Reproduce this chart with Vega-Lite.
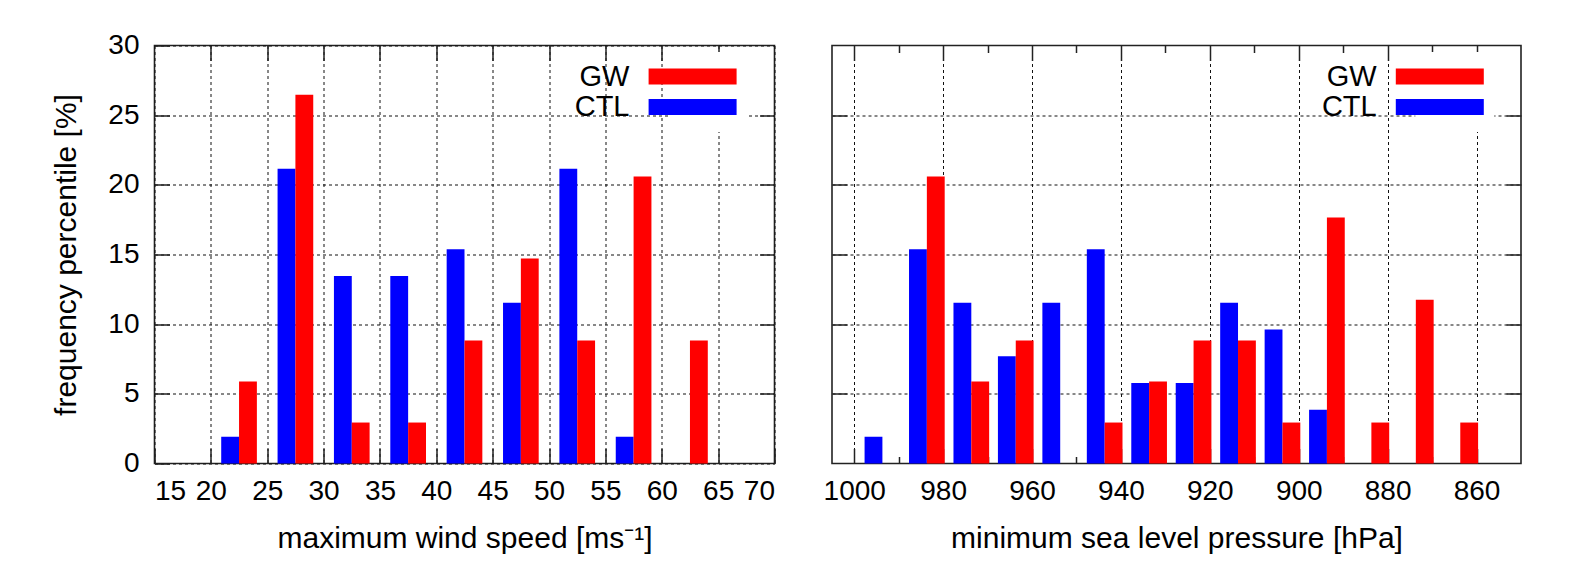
{
  "$schema": "https://vega.github.io/schema/vega-lite/v6.json",
  "background": "white",
  "padding": {"left": 50.5, "top": 30.5, "right": 10, "bottom": 4},
  "bounds": "flush",
  "config": {
    "font": "Liberation Sans",
    "view": {"stroke": "#222", "strokeWidth": 1.6},
    "axis": {
      "labelFont": "Liberation Sans", "labelFontSize": 28, "labelColor": "#000",
      "titleFont": "Liberation Sans", "titleFontSize": 30, "titleFontWeight": "normal", "titleColor": "#000",
      "titleLimit": 2000,
      "domain": false, "tickColor": "#222", "tickWidth": 1.5,
      "gridColor": "#111", "gridDash": [3, 3], "gridWidth": 1, "gridOpacity": 1
    },
    "legend": {
      "labelFont": "Liberation Sans", "labelFontSize": 29, "labelColor": "#000"
    }
  },
  "datasets": {
    "wind": [
      {"bin_from": 20, "series": "CTL", "pct": 1.92},
      {"bin_from": 25, "series": "CTL", "pct": 21.15},
      {"bin_from": 30, "series": "CTL", "pct": 13.46},
      {"bin_from": 35, "series": "CTL", "pct": 13.46},
      {"bin_from": 40, "series": "CTL", "pct": 15.38},
      {"bin_from": 45, "series": "CTL", "pct": 11.54},
      {"bin_from": 50, "series": "CTL", "pct": 21.15},
      {"bin_from": 55, "series": "CTL", "pct": 1.92},
      {"bin_from": 20, "series": "GW", "pct": 5.88},
      {"bin_from": 25, "series": "GW", "pct": 26.47},
      {"bin_from": 30, "series": "GW", "pct": 2.94},
      {"bin_from": 35, "series": "GW", "pct": 2.94},
      {"bin_from": 40, "series": "GW", "pct": 8.82},
      {"bin_from": 45, "series": "GW", "pct": 14.71},
      {"bin_from": 50, "series": "GW", "pct": 8.82},
      {"bin_from": 55, "series": "GW", "pct": 20.59},
      {"bin_from": 60, "series": "GW", "pct": 8.82}
    ],
    "slp": [
      {"bin_from": 1000, "series": "CTL", "pct": 1.92},
      {"bin_from": 990, "series": "CTL", "pct": 15.38},
      {"bin_from": 980, "series": "CTL", "pct": 11.54},
      {"bin_from": 970, "series": "CTL", "pct": 7.69},
      {"bin_from": 960, "series": "CTL", "pct": 11.54},
      {"bin_from": 950, "series": "CTL", "pct": 15.38},
      {"bin_from": 940, "series": "CTL", "pct": 5.77},
      {"bin_from": 930, "series": "CTL", "pct": 5.77},
      {"bin_from": 920, "series": "CTL", "pct": 11.54},
      {"bin_from": 910, "series": "CTL", "pct": 9.62},
      {"bin_from": 900, "series": "CTL", "pct": 3.85},
      {"bin_from": 990, "series": "GW", "pct": 20.59},
      {"bin_from": 980, "series": "GW", "pct": 5.88},
      {"bin_from": 970, "series": "GW", "pct": 8.82},
      {"bin_from": 950, "series": "GW", "pct": 2.94},
      {"bin_from": 940, "series": "GW", "pct": 5.88},
      {"bin_from": 930, "series": "GW", "pct": 8.82},
      {"bin_from": 920, "series": "GW", "pct": 8.82},
      {"bin_from": 910, "series": "GW", "pct": 2.94},
      {"bin_from": 900, "series": "GW", "pct": 17.65},
      {"bin_from": 890, "series": "GW", "pct": 2.94},
      {"bin_from": 880, "series": "GW", "pct": 11.76},
      {"bin_from": 870, "series": "GW", "pct": 2.94}
    ]
  },
  "spacing": 57.5,
  "resolve": {"scale": {"color": "independent"}, "legend": {"color": "independent"}},
  "hconcat": [
    {
      "width": 620,
      "height": 418,
      "data": {"name": "wind"},
      "layer": [
        {
          "mark": {"type": "bar"},
          "encoding": {
            "x": {"field": "bin_from", "type": "ordinal",
                  "scale": {"domain": [15, 20, 25, 30, 35, 40, 45, 50, 55, 60, 65], "paddingInner": 0, "paddingOuter": 0},
                  "axis": null},
            "xOffset": {"field": "series", "type": "nominal",
                        "scale": {"domain": ["CTL", "GW"], "paddingInner": 0, "paddingOuter": 0.58}},
            "y": {"field": "pct", "type": "quantitative",
                  "scale": {"domain": [0, 30], "nice": false},
                  "axis": {"orient": "left", "values": [0, 5, 10, 15, 20, 25, 30], "grid": true, "tickSize": -15,
                           "labelPadding": 30.5, "title": "frequency percentile [%]", "titlePadding": 26.5}},
            "color": {"field": "series", "type": "nominal",
                      "scale": {"domain": ["GW", "CTL"], "range": ["#ff0000", "#0000ff"]},
                      "legend": {"orient": "none", "legendX": 513.6, "legendY": 6.5, "title": null,
                                 "symbolType": "M-5.5,-1H5.5V1H-5.5Z", "symbolSize": 256, "symbolStrokeWidth": 0,
                                 "symbolOpacity": 1, "labelAlign": "right", "labelOffset": -77.6,
                                 "rowPadding": 0.5, "fillColor": "white", "padding": 10}}
          }
        },
        {
          "mark": {"type": "point", "opacity": 0},
          "encoding": {
            "x": {"field": "bin_from", "type": "quantitative",
                  "scale": {"domain": [15, 70], "nice": false, "zero": false},
                  "axis": {"orient": "bottom", "values": [15, 20, 25, 30, 35, 40, 45, 50, 55, 60, 65, 70], "grid": true,
                           "tickSize": -15, "labelPadding": 29, "title": "maximum wind speed [ms⁻¹]", "titlePadding": 18}},
            "y": {"field": "pct", "type": "quantitative",
                  "axis": {"orient": "right", "values": [5, 10, 15, 20, 25], "labels": false, "grid": false,
                           "tickSize": -15, "title": null, "minExtent": 0, "maxExtent": 0}}
          }
        },
        {
          "mark": {"type": "point", "opacity": 0},
          "encoding": {
            "x": {"field": "bin_from", "type": "quantitative",
                  "scale": {"domain": [15, 70], "nice": false, "zero": false},
                  "axis": {"orient": "top", "values": [20, 25, 30, 35, 40, 45, 50, 55, 60, 65], "grid": false,
                           "labels": false, "tickSize": -15, "title": null, "minExtent": 0, "maxExtent": 0}},
            "y": {"field": "pct", "type": "quantitative", "axis": null}
          }
        }
      ],
      "resolve": {"scale": {"x": "independent"}, "axis": {"x": "independent", "y": "independent"}}
    },
    {
      "width": 689,
      "height": 418,
      "data": {"name": "slp"},
      "layer": [
        {
          "mark": {"type": "bar"},
          "encoding": {
            "x": {"field": "bin_from", "type": "ordinal",
                  "scale": {"domain": [1000, 990, 980, 970, 960, 950, 940, 930, 920, 910, 900, 890, 880, 870],
                            "paddingInner": 0, "paddingOuter": 0.75, "align": 0.3333},
                  "axis": null},
            "xOffset": {"field": "series", "type": "nominal",
                        "scale": {"domain": ["CTL", "GW"], "paddingInner": 0, "paddingOuter": 0.55}},
            "y": {"field": "pct", "type": "quantitative",
                  "scale": {"domain": [0, 30], "nice": false},
                  "axis": {"orient": "left", "values": [5, 10, 15, 20, 25], "grid": true, "tickSize": -15,
                           "labels": false, "title": null, "minExtent": 0, "maxExtent": 0}},
            "color": {"field": "series", "type": "nominal",
                      "scale": {"domain": ["GW", "CTL"], "range": ["#ff0000", "#0000ff"]},
                      "legend": {"orient": "none", "legendX": 583.3, "legendY": 6.5, "title": null,
                                 "symbolType": "M-5.5,-1H5.5V1H-5.5Z", "symbolSize": 256, "symbolStrokeWidth": 0,
                                 "symbolOpacity": 1, "labelAlign": "right", "labelOffset": -77.6,
                                 "rowPadding": 0.5, "fillColor": "white", "padding": 10}}
          }
        },
        {
          "mark": {"type": "point", "opacity": 0},
          "encoding": {
            "x": {"field": "bin_from", "type": "quantitative",
                  "scale": {"domain": [850, 1005], "reverse": true, "nice": false, "zero": false},
                  "axis": {"orient": "bottom", "values": [1000, 980, 960, 940, 920, 900, 880, 860], "format": "d", "grid": true,
                           "tickSize": -15, "labelPadding": 29, "title": "minimum sea level pressure [hPa]", "titlePadding": 18}},
            "y": {"field": "pct", "type": "quantitative",
                  "axis": {"orient": "right", "values": [5, 10, 15, 20, 25], "labels": false, "grid": false,
                           "tickSize": -15, "title": null, "minExtent": 0, "maxExtent": 0}}
          }
        },
        {
          "mark": {"type": "point", "opacity": 0},
          "encoding": {
            "x": {"field": "bin_from", "type": "quantitative",
                  "scale": {"domain": [850, 1005], "reverse": true, "nice": false, "zero": false},
                  "axis": {"orient": "top", "values": [1000, 980, 960, 940, 920, 900, 880, 860], "grid": false,
                           "labels": false, "tickSize": -15, "title": null, "minExtent": 0, "maxExtent": 0}},
            "y": {"field": "pct", "type": "quantitative", "axis": null}
          }
        },
        {
          "mark": {"type": "point", "opacity": 0},
          "encoding": {
            "x": {"field": "bin_from", "type": "quantitative",
                  "scale": {"domain": [850, 1005], "reverse": true, "nice": false, "zero": false},
                  "axis": {"orient": "bottom", "values": [990, 970, 950, 930, 910, 890, 870], "grid": false,
                           "labels": false, "tickSize": -7, "title": null, "minExtent": 0, "maxExtent": 0}},
            "y": {"field": "pct", "type": "quantitative", "axis": null}
          }
        },
        {
          "mark": {"type": "point", "opacity": 0},
          "encoding": {
            "x": {"field": "bin_from", "type": "quantitative",
                  "scale": {"domain": [850, 1005], "reverse": true, "nice": false, "zero": false},
                  "axis": {"orient": "top", "values": [990, 970, 950, 930, 910, 890, 870], "grid": false,
                           "labels": false, "tickSize": -7, "title": null, "minExtent": 0, "maxExtent": 0}},
            "y": {"field": "pct", "type": "quantitative", "axis": null}
          }
        }
      ],
      "resolve": {"scale": {"x": "independent"}, "axis": {"x": "independent", "y": "independent"}}
    }
  ]
}
